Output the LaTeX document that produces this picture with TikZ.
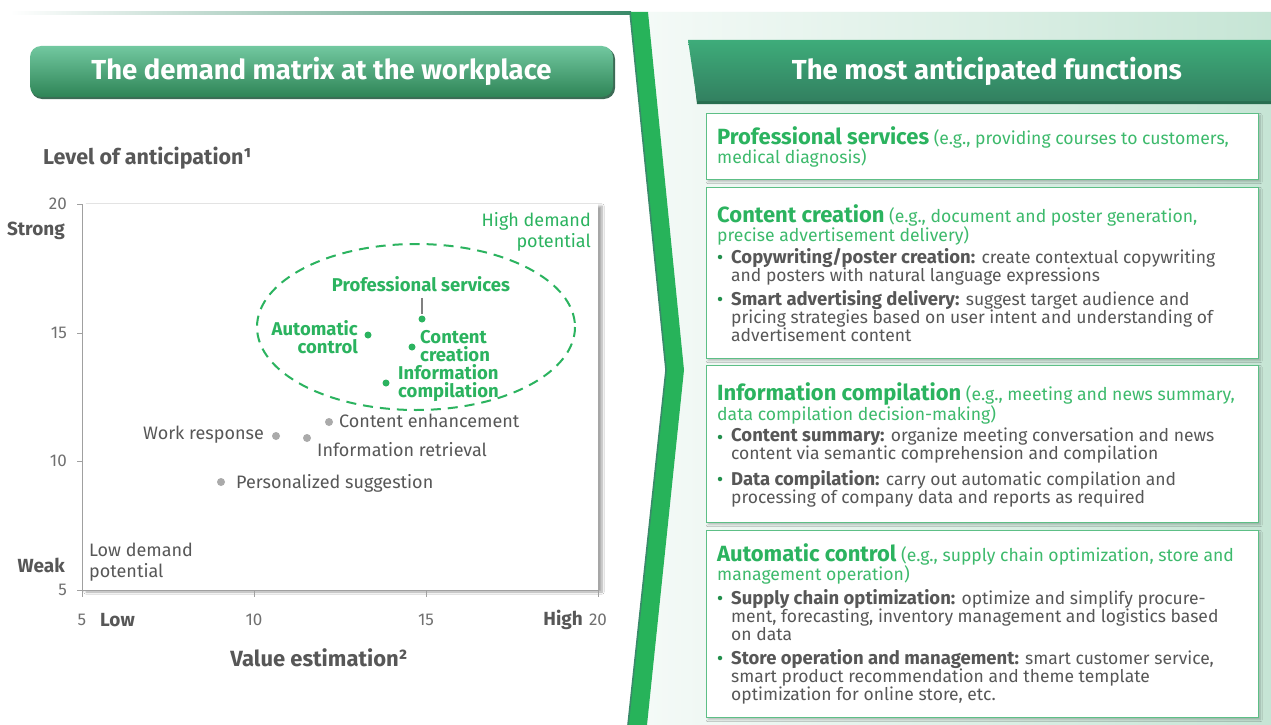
\documentclass[tikz,border=0pt]{standalone}
\usepackage{fontspec}
\setmainfont{Fira Sans}
\usetikzlibrary{shadows.blur,calc}
\definecolor{grn}{HTML}{2BB35F}
\definecolor{lgrn}{HTML}{3DBA6C}
\definecolor{band}{HTML}{27B35A}
\definecolor{dkgrn}{HTML}{3A8A6A}
\definecolor{txtgray}{HTML}{575757}
\definecolor{ticgray}{HTML}{707070}
\definecolor{axgray}{HTML}{A0A0A0}
\definecolor{dotgray}{HTML}{AAAAAA}
\definecolor{boxline}{HTML}{5DBF86}
\definecolor{panelL}{HTML}{F4FAF7}
\definecolor{panelR}{HTML}{C6E5D5}
\definecolor{ltTop}{HTML}{72C8A0}
\definecolor{ltBot}{HTML}{2E8456}
\definecolor{ltShd}{HTML}{3C6B55}
\definecolor{rtTop}{HTML}{3EAC7A}
\definecolor{rtBot}{HTML}{328060}
\definecolor{rtShd}{HTML}{286E50}
\tikzset{
  glabel/.style={text=grn, font=\fontsize{18.5}{17.5}\selectfont\bfseries, inner sep=0pt},
  plabel/.style={text=txtgray, font=\fontsize{18}{19}\selectfont, inner sep=0pt},
  ticklab/.style={text=ticgray, font=\fontsize{17}{19}\selectfont, inner sep=0pt},
  axlab/.style={text=txtgray, font=\fontsize{19}{19}\selectfont\bfseries, inner sep=0pt},
  gdot/.style={circle, fill=grn, inner sep=0pt, minimum size=7pt},
  ddot/.style={circle, fill=dotgray, inner sep=0pt, minimum size=8pt},
  bdot/.style={circle, fill=grn!80!black, inner sep=0pt, minimum size=4.5pt},
  fbox/.style={draw=boxline, line width=1.2pt, fill=white, anchor=north west, inner sep=0pt,
    blur shadow={shadow blur steps=6, shadow xshift=1.5pt, shadow yshift=-2pt, shadow opacity=25}},
  btitle/.style={anchor=north west, align=left, inner sep=0pt, text=lgrn,
    font=\fontsize{17.6}{19}\selectfont},
  btext/.style={anchor=north west, align=left, inner sep=0pt, text=txtgray,
    font=\fontsize{17.5}{18}\selectfont},
  titletext/.style={text=white, font=\fontsize{27.5}{30}\selectfont\bfseries, inner sep=0pt},
}
\newcommand{\bt}[1]{{\fontsize{22}{19}\selectfont\bfseries\color{grn}#1}}
\newcommand{\bh}[1]{{\fontsize{18.5}{18}\selectfont\bfseries #1}}
\begin{document}
\begin{tikzpicture}[x=1pt,y=-1pt]
\useasboundingbox (0,0) rectangle (1271,725);
\fill[white] (0,0) rectangle (1271,725);
% right panel background
\shade[left color=panelL, right color=panelR] (648,12) -- (1271,12) -- (1271,725) -- (647,725) -- (684,370) -- cycle;
% top line left
\shade[left color=white, right color=dkgrn] (10,12) rectangle (631,15);
% chevron band
\fill[band] (630,12) -- (648,12) -- (684,370) -- (647,725) -- (628,725) -- (666,370) -- cycle;
\draw[dkgrn, line width=1.6pt] (630,12) -- (666,370) -- (628,725);

% left title bar
\fill[rounded corners=11pt, ltShd] (31,48) rectangle (615,99);
\shade[rounded corners=11pt, top color=ltTop, bottom color=ltBot] (30,46) rectangle (613,97);
\node[titletext] (lt) at (321.5,71) {The demand matrix at the workplace};

% right title bar
\fill[rtShd] (690,42) -- (1271,42) -- (1271,104) -- (697,104) -- cycle;
\shade[top color=rtTop, bottom color=rtBot] (688,40) -- (1271,40) -- (1271,101) -- (697,101) -- cycle;
\node[titletext] (rt) at (987,71) {The most anticipated functions};

% ---------- chart ----------
\node[axlab, anchor=west] (ya) at (43,158) {\fontsize{21.5}{22}\selectfont Level of anticipation¹};
\fill[white, blur shadow={shadow blur steps=8, shadow xshift=4pt, shadow yshift=-2pt, shadow opacity=35}] (82,204) rectangle (598,590);
\coordinate (o) at (82,590);
\coordinate (ytop) at (82,204);
\coordinate (xend) at (598,590);
\draw[axgray, line width=1pt] (ytop) -- (o) -- (xend);
\foreach \y/\l in {204/20,333/15,461/10,590/5}{
  \draw[axgray, line width=1pt] (77,\y) -- (82,\y);
  \node[ticklab, anchor=east] (yt\l) at (67,\y) {\l};
}
\foreach \x/\l in {82/5,254/10,426/15,598/20}{
  \draw[axgray, line width=1pt] (\x,590) -- (\x,597);
}
\node[ticklab] (xt5) at (82,620) {5};
\node[ticklab] (xt10) at (254,620) {10};
\node[ticklab] (xt15) at (426,620) {15};
\node[ticklab] (xt20) at (598,620) {20};
\node[axlab, anchor=west] (low) at (100,620) {Low};
\node[axlab, anchor=east] (high) at (583,620) {High};
\node[axlab, anchor=east] (strong) at (65,231) {Strong};
\node[axlab, anchor=east] (weak) at (65,565) {Weak};
\node[axlab] (xa) at (319,658) {\fontsize{22}{22}\selectfont Value estimation²};

\node[text=grn, align=right, anchor=north east, inner sep=0pt, font=\fontsize{18}{21}\selectfont] (hdp) at (591,212) {High demand\\potential};
\node[text=txtgray, align=left, anchor=north west, inner sep=0pt, font=\fontsize{18}{21}\selectfont] (ldp) at (89,543) {Low demand\\potential};

\draw[grn, line width=2pt, dash pattern=on 10pt off 7pt] (416,327) ellipse [x radius=159, y radius=83];

% green points
\node[gdot] (ps) at (422,319) {};
\node[glabel] (psl) at (421,284) {Professional services};
\draw[gray, line width=1.2pt] (psl.south -| ps) ++(0,6) -- ($(ps)+(0,-5)$);
\node[gdot] (ac) at (368,335) {};
\node[glabel, align=right, anchor=east] (acl) at (358,337) {Automatic\\control};
\node[gdot] (cc) at (412,347) {};
\node[glabel, align=left, anchor=west] (ccl) at (420,346) {Content\\creation};
\node[gdot] (ic) at (386,383) {};
\node[glabel, align=left, anchor=west] (icl) at (398,383) {Information\\compilation};

% gray points
\node[ddot] (ce) at (329,422) {};
\node[plabel, anchor=west] (cel) at (339,421) {Content enhancement};
\node[ddot] (wr) at (276,436) {};
\node[plabel, anchor=east] (wrl) at (264,435) {Work response};
\node[ddot] (ir) at (307,438) {};
\node[plabel, anchor=west] (irl) at (317,450) {Information retrieval};
\node[ddot] (pg) at (221,482) {};
\node[plabel, anchor=west] (pgl) at (236,483) {Personalized suggestion};

% ---------- right boxes ----------
\node[fbox, minimum width=552pt, minimum height=66pt] (b1) at (706,113) {};
\node[fbox, minimum width=552pt, minimum height=171pt] (b2) at (706,187) {};
\node[fbox, minimum width=552pt, minimum height=157pt] (b3) at (706,365) {};
\node[fbox, minimum width=552pt, minimum height=187pt] (b4) at (706,530) {};

\node[btitle] (t1) at (717,126) {\bt{Professional services} (e.g., providing courses to customers,\\medical diagnosis)};

\node[btitle] (t2) at (717,204) {\bt{Content creation} (e.g., document and poster generation,\\precise advertisement delivery)};
\node[bdot] (u21) at (720,257) {};
\node[btext] (x21) at (731,248) {\bh{Copywriting/poster creation:} create contextual copywriting\\and posters with natural language expressions};
\node[bdot] (u22) at (720,299) {};
\node[btext] (x22) at (731,290) {\bh{Smart advertising delivery:} suggest target audience and\\pricing strategies based on user intent and understanding of\\advertisement content};

\node[btitle] (t3) at (717,382) {\bt{Information compilation} (e.g., meeting and news summary,\\data compilation decision-making)};
\node[bdot] (u31) at (720,437) {};
\node[btext] (x31) at (731,428) {\bh{Content summary:} organize meeting conversation and news\\content via semantic comprehension and compilation};
\node[bdot] (u32) at (720,479) {};
\node[btext] (x32) at (731,470) {\bh{Data compilation:} carry out automatic compilation and\\processing of company data and reports as required};

\node[btitle] (t4) at (717,543) {\bt{Automatic control} (e.g., supply chain optimization, store and\\management operation)};
\node[bdot] (u41) at (720,598) {};
\node[btext] (x41) at (731,589) {\bh{Supply chain optimization:} optimize and simplify procure-\\ment, forecasting, inventory management and logistics based\\on data};
\node[bdot] (u42) at (720,658) {};
\node[btext] (x42) at (731,649) {\bh{Store operation and management:} smart customer service,\\smart product recommendation and theme template\\optimization for online store, etc.};
\end{tikzpicture}
\end{document}
